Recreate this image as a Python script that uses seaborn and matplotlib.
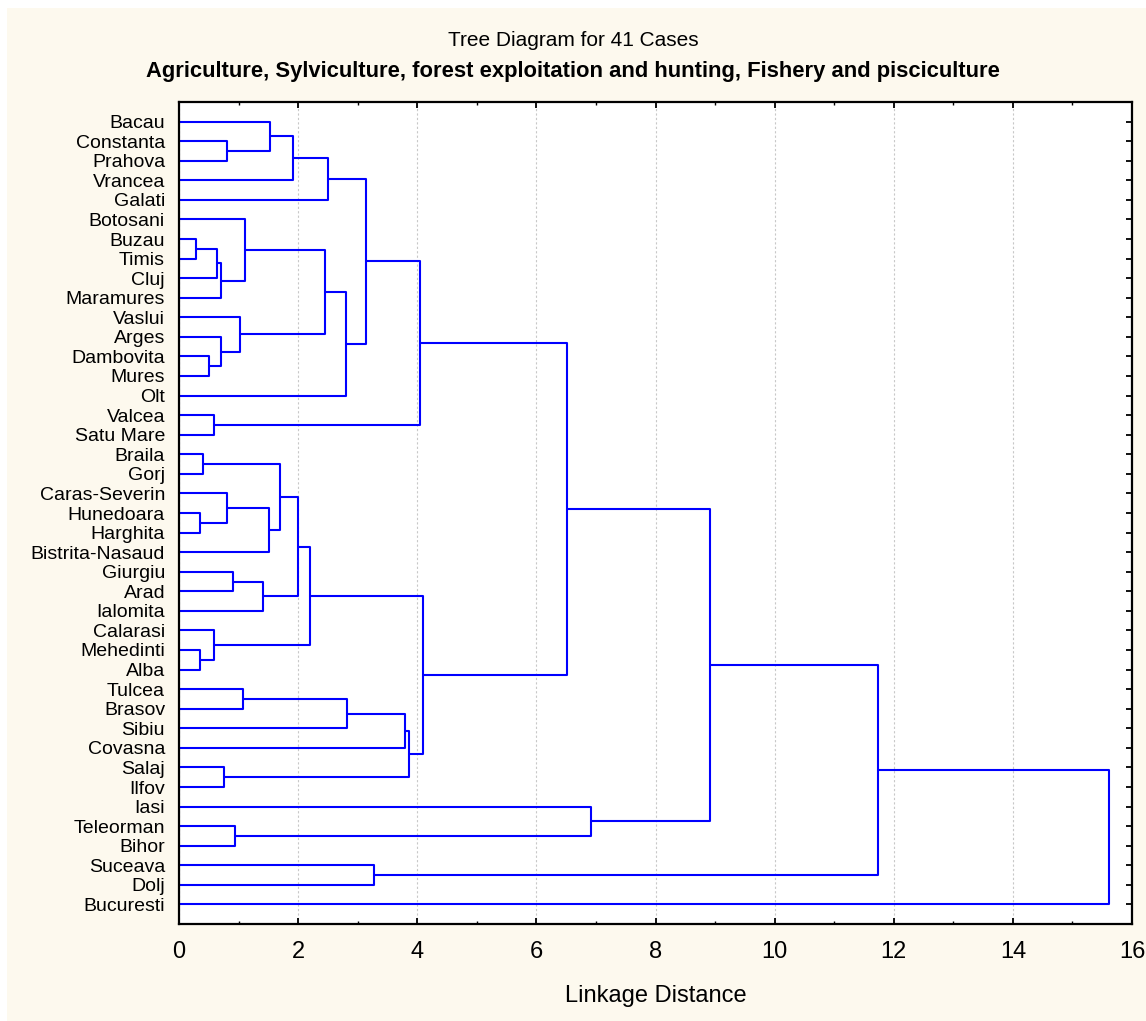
import numpy as np
import pandas as pd
import matplotlib
matplotlib.use("Agg")
import matplotlib.pyplot as plt
import seaborn as sns
from matplotlib.ticker import MultipleLocator
from matplotlib.patches import Rectangle

# ---- data ----
leaves = ["Bacau", "Constanta", "Prahova", "Vrancea", "Galati", "Botosani", "Buzau",
          "Timis", "Cluj", "Maramures", "Vaslui", "Arges", "Dambovita", "Mures", "Olt",
          "Valcea", "Satu Mare", "Braila", "Gorj", "Caras-Severin", "Hunedoara",
          "Harghita", "Bistrita-Nasaud", "Giurgiu", "Arad", "Ialomita", "Calarasi",
          "Mehedinti", "Alba", "Tulcea", "Brasov", "Sibiu", "Covasna", "Salaj", "Ilfov",
          "Iasi", "Teleorman", "Bihor", "Suceava", "Dolj", "Bucuresti"]

# merge steps: (left child, right child, linkage distance); ints refer to earlier merges
merge_left = ["Constanta", "Bacau", 1, 2, "Buzau", 4, 5, "Botosani", "Dambovita", "Arges",
              "Vaslui", 7, 11, 3, "Valcea", 13, "Braila", "Hunedoara", "Caras-Severin", 18,
              16, "Giurgiu", 21, 20, "Mehedinti", "Calarasi", 23, "Tulcea", 27, 28, "Salaj",
              29, 26, 15, "Teleorman", "Iasi", 33, "Suceava", 36, 38]
merge_right = ["Prahova", 0, "Vrancea", "Galati", "Timis", "Cluj", "Maramures", 6, "Mures", 8,
               9, 10, "Olt", 12, "Satu Mare", 14, "Gorj", "Harghita", 17, "Bistrita-Nasaud",
               19, "Arad", "Ialomita", 22, "Alba", 24, 25, "Brasov", "Sibiu", "Covasna", "Ilfov",
               30, 31, 32, "Bihor", 34, 35, "Dolj", 37, "Bucuresti"]
merge_height = [0.80, 1.53, 1.91, 2.50, 0.28, 0.64, 0.70, 1.11, 0.51, 0.70,
                1.03, 2.45, 2.80, 3.14, 0.58, 4.05, 0.40, 0.36, 0.81, 1.51,
                1.70, 0.90, 1.41, 1.99, 0.36, 0.58, 2.20, 1.08, 2.82, 3.80,
                0.76, 3.86, 4.09, 6.52, 0.94, 6.92, 8.92, 3.28, 11.74, 15.62]

x_ticks = [0, 2, 4, 6, 8, 10, 12, 14, 16]

# ---- build bracket segments ----
leaf_pos = {name: i + 1 for i, name in enumerate(leaves)}
node_y, node_h, rows = [], [], []


def locate(ref):
    if isinstance(ref, str):
        return leaf_pos[ref], 0.0
    return node_y[ref], node_h[ref]


for k, (a, b, h) in enumerate(zip(merge_left, merge_right, merge_height)):
    ya, ha = locate(a)
    yb, hb = locate(b)
    for j, (x, y) in enumerate([(ha, ya), (h, ya), (h, yb), (hb, yb)]):
        rows.append({"seg": k, "order": j, "x": x, "y": y})
    node_y.append((ya + yb) / 2)
    node_h.append(h)
df = pd.DataFrame(rows)

# ---- style ----
sns.set_theme(style="white")
plt.rcParams["font.family"] = ["Liberation Sans", "DejaVu Sans"]
plt.rcParams.update({"text.color": "black", "axes.labelcolor": "black",
                     "xtick.color": "black", "ytick.color": "black"})

W, H = 1146, 1021
cream = "#FDF9EE"
fig = plt.figure(figsize=(W / 100, H / 100), dpi=100, facecolor=cream)
# thin white strips along the top and left edges
fig.add_artist(Rectangle((0, 1 - 8 / H), 1, 8 / H, transform=fig.transFigure,
                         facecolor="white", edgecolor="none", zorder=-10))
fig.add_artist(Rectangle((0, 0), 7 / W, 1, transform=fig.transFigure,
                         facecolor="white", edgecolor="none", zorder=-10))

ax = fig.add_axes([179 / W, 1 - 924 / H, (1132 - 179) / W, (924 - 102) / H])
ax.set_facecolor("white")

sns.lineplot(data=df, x="x", y="y", units="seg", estimator=None, sort=False,
             color="#0000FF", linewidth=1.5, ax=ax, legend=False, zorder=3)

ax.set_xlim(0, 16)
ax.set_ylim(len(leaves) + 1, 0)
ax.set_xticks(x_ticks)
ax.set_xticklabels([str(t) for t in x_ticks], fontsize=17)
ax.xaxis.set_minor_locator(MultipleLocator(1))
ax.set_yticks(range(1, len(leaves) + 1))
ax.set_yticklabels(leaves, fontsize=14)

ax.tick_params(axis="x", which="major", direction="in", top=True, bottom=True,
               length=4.5, width=1.3, color="black", pad=12)
ax.tick_params(axis="x", which="minor", direction="in", top=True, bottom=True,
               length=2.5, width=1.0, color="black")
ax.tick_params(axis="y", which="major", direction="in", left=True, right=True,
               length=4.5, width=1.3, color="black", pad=10)

ax.grid(axis="x", which="major", color="#c8c8c8", linestyle=(0, (2, 2)), linewidth=0.8)
ax.grid(axis="y", visible=False)
for s in ax.spines.values():
    s.set_color("black")
    s.set_linewidth(1.6)
    s.set_zorder(5)

ax.set_xlabel("Linkage Distance", fontsize=17, labelpad=16)
ax.set_ylabel("")

fig.text(0.5, 1 - 40 / H, "Tree Diagram for 41 Cases", ha="center", va="center", fontsize=15)
fig.text(0.5, 1 - 72 / H,
         "Agriculture, Sylviculture, forest exploitation and hunting, Fishery and pisciculture",
         ha="center", va="center", fontsize=15.8, fontweight="bold")

fig.savefig("out.png", dpi=100, facecolor=fig.get_facecolor())
